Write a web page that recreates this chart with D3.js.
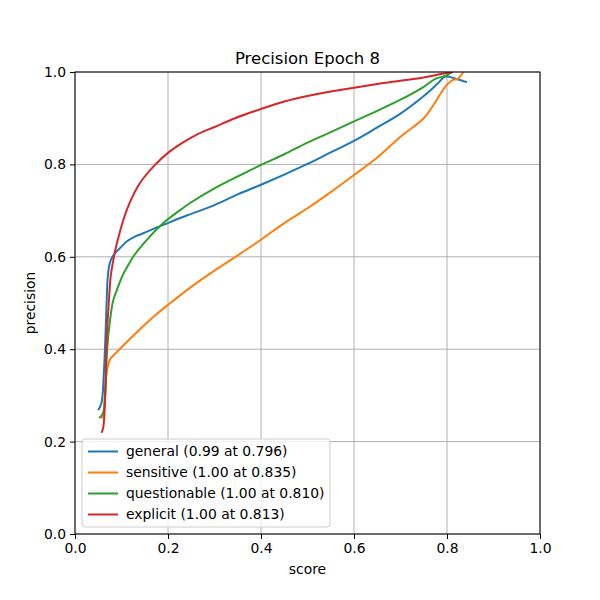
<!DOCTYPE html>
<html>
<head>
<meta charset="utf-8">
<script src="https://cdn.jsdelivr.net/npm/d3@7"></script>
<style>
  body { margin: 0; background: #fff; }
  text { font-family: "DejaVu Sans", sans-serif; }
</style>
</head>
<body>
<div id="chart-container"></div>
<script>
// precision vs score curves, one line per rating class
const svgWidth = 600;
const svgHeight = 600;
const margin = { top: 72, right: 60, bottom: 66, left: 75 };
const width = svgWidth - margin.left - margin.right;
const height = svgHeight - margin.top - margin.bottom;

const seriesNames = ["general (0.99 at 0.796)", "sensitive (1.00 at 0.835)", "questionable (1.00 at 0.810)", "explicit (1.00 at 0.813)"];
const seriesColors = ["#1f77b4", "#ff7f0e", "#2ca02c", "#d62728"];
const tickValues = [0, 0.2, 0.4, 0.6, 0.8, 1.0];

// [score, precision]
const general = [[0.050,0.268],[0.057,0.284],[0.062,0.348],[0.066,0.442],[0.068,0.50],[0.070,0.55],[0.073,0.578],[0.077,0.593],[0.086,0.608],[0.1,0.622],[0.111,0.633],[0.13,0.644],[0.147,0.651],[0.17,0.661],[0.19,0.669],[0.226,0.684],[0.25,0.693],[0.3,0.712],[0.35,0.735],[0.4,0.756],[0.45,0.778],[0.5,0.801],[0.55,0.826],[0.6,0.851],[0.65,0.88],[0.7,0.91],[0.75,0.948],[0.78,0.975],[0.796,0.99],[0.82,0.985],[0.843,0.978]];
const sensitive = [[0.058,0.25],[0.062,0.27],[0.065,0.31],[0.068,0.348],[0.075,0.377],[0.09,0.394],[0.118,0.422],[0.15,0.453],[0.172,0.473],[0.2,0.496],[0.25,0.535],[0.3,0.57],[0.35,0.603],[0.4,0.637],[0.45,0.673],[0.5,0.705],[0.55,0.74],[0.6,0.777],[0.65,0.815],[0.7,0.86],[0.75,0.9],[0.775,0.935],[0.796,0.968],[0.813,0.983],[0.823,0.985],[0.835,1.0]];
const questionable = [[0.052,0.251],[0.061,0.262],[0.065,0.297],[0.069,0.398],[0.075,0.46],[0.082,0.505],[0.09,0.528],[0.097,0.547],[0.103,0.561],[0.118,0.588],[0.125,0.6],[0.154,0.636],[0.19,0.673],[0.226,0.701],[0.25,0.718],[0.3,0.748],[0.35,0.774],[0.4,0.799],[0.45,0.822],[0.5,0.847],[0.55,0.87],[0.6,0.893],[0.65,0.916],[0.7,0.94],[0.75,0.968],[0.775,0.985],[0.8,0.993],[0.81,1.0]];
const explicit = [[0.057,0.219],[0.061,0.232],[0.065,0.312],[0.068,0.42],[0.072,0.49],[0.077,0.56],[0.082,0.59],[0.086,0.612],[0.097,0.656],[0.108,0.692],[0.118,0.718],[0.135,0.752],[0.147,0.77],[0.172,0.799],[0.2,0.825],[0.23,0.846],[0.265,0.866],[0.3,0.881],[0.344,0.9],[0.4,0.92],[0.45,0.936],[0.5,0.948],[0.55,0.958],[0.6,0.966],[0.65,0.974],[0.7,0.981],[0.75,0.988],[0.79,0.996],[0.813,1.0]];

const allSeries = [general, sensitive, questionable, explicit];

const svg = d3.select("#chart-container")
    .append("svg")
    .attr("width", svgWidth)
    .attr("height", svgHeight)
    .append("g")
    .attr("transform", `translate(${margin.left},${margin.top})`);

const x = d3.scaleLinear().domain([0, 1]).range([0, width]);
const y = d3.scaleLinear().domain([0, 1]).range([height, 0]);

// grid
svg.append("g")
    .selectAll("line")
    .data(tickValues)
    .join("line")
    .attr("x1", d => x(d)).attr("x2", d => x(d))
    .attr("y1", 0).attr("y2", height)
    .attr("stroke", "#b0b0b0").attr("stroke-width", 1);
svg.append("g")
    .selectAll("line")
    .data(tickValues)
    .join("line")
    .attr("y1", d => y(d)).attr("y2", d => y(d))
    .attr("x1", 0).attr("x2", width)
    .attr("stroke", "#b0b0b0").attr("stroke-width", 1);

const line = d3.line()
    .x(d => x(d[0]))
    .y(d => y(d[1]))
    .curve(d3.curveCatmullRom.alpha(0.5));

svg.append("clipPath").attr("id", "clip")
    .append("rect").attr("width", width).attr("height", height);

svg.append("g")
    .attr("clip-path", "url(#clip)")
    .selectAll("path")
    .data(allSeries)
    .join("path")
    .attr("d", line)
    .attr("fill", "none")
    .attr("stroke", (d, i) => seriesColors[i])
    .attr("stroke-width", 2);

// axes
const xAxis = svg.append("g")
    .attr("transform", `translate(0,${height})`)
    .call(d3.axisBottom(x).tickValues(tickValues).tickFormat(d3.format(".1f")).tickSize(5).tickPadding(4));
const yAxis = svg.append("g")
    .call(d3.axisLeft(y).tickValues(tickValues).tickFormat(d3.format(".1f")).tickSize(5).tickPadding(4));
[xAxis, yAxis].forEach(a => {
    a.select(".domain").remove();
    a.selectAll("text").attr("font-size", 13.9).attr("font-family", "DejaVu Sans").attr("fill", "#000");
    a.selectAll("line").attr("stroke", "#000");
});

// frame
svg.append("rect")
    .attr("width", width).attr("height", height)
    .attr("fill", "none").attr("stroke", "#000").attr("stroke-width", 1);

// legend
const legend = svg.append("g").attr("transform", `translate(7,${height - 95})`);
legend.append("rect")
    .attr("width", 248).attr("height", 88)
    .attr("rx", 3)
    .attr("fill", "#fff").attr("fill-opacity", 0.8)
    .attr("stroke", "#cccccc");
seriesNames.forEach((name, i) => {
    const row = legend.append("g").attr("transform", `translate(0,${12.5 + i * 21})`);
    row.append("line")
        .attr("x1", 6).attr("x2", 36)
        .attr("stroke", seriesColors[i]).attr("stroke-width", 2);
    row.append("text")
        .text(name)
        .attr("x", 44).attr("y", 0)
        .attr("dy", "0.35em")
        .attr("font-size", 13.9);
});

svg.append("text")
    .text("Precision Epoch 8")
    .attr("x", width / 2)
    .attr("y", -8)
    .attr("text-anchor", "middle")
    .attr("font-size", 16.5);

svg.append("text")
    .text("score")
    .attr("x", width / 2)
    .attr("y", height + 40)
    .attr("text-anchor", "middle")
    .attr("font-size", 13.9);

svg.append("text")
    .text("precision")
    .attr("transform", `translate(-40,${height / 2}) rotate(-90)`)
    .attr("text-anchor", "middle")
    .attr("font-size", 13.9);
</script>
</body>
</html>
